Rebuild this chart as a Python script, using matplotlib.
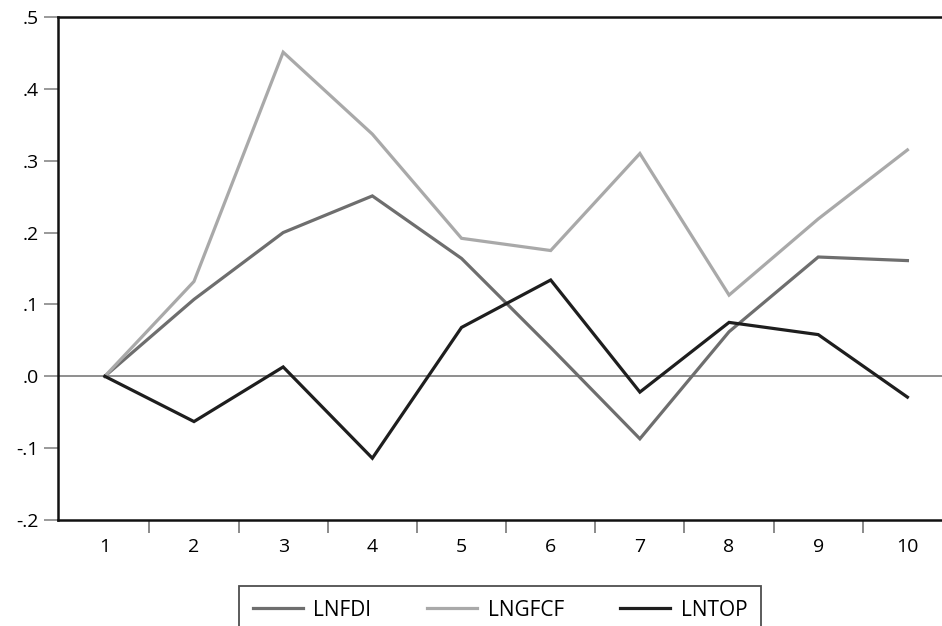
import matplotlib
matplotlib.use("Agg")
import matplotlib.pyplot as plt
from matplotlib.ticker import FuncFormatter
import numpy as np

### data
periods = [1, 2, 3, 4, 5, 6, 7, 8, 9, 10]
lnfdi = [0.0, 0.107, 0.200, 0.251, 0.164, 0.040, -0.087, 0.062, 0.166, 0.161]
lngfcf = [0.0, 0.132, 0.451, 0.337, 0.192, 0.175, 0.310, 0.113, 0.219, 0.315]
lntop = [0.0, -0.063, 0.013, -0.114, 0.068, 0.134, -0.022, 0.075, 0.058, -0.029]

plt.rcParams['font.family'] = ['Open Sans', 'DejaVu Sans']

W, H = 942, 626
fig = plt.figure(figsize=(W / 100, H / 100), dpi=100)
# axes run past the right edge, as in the cropped original
ax = fig.add_axes([58 / W, 1 - 520 / H, (952 - 58) / W, (520 - 17) / H])

ax.axhline(0, color='#707070', lw=1.1, zorder=1)
ax.plot(periods, lnfdi, color='#6e6e6e', lw=2.3, label='LNFDI', solid_joinstyle='miter')
ax.plot(periods, lngfcf, color='#a9a9a9', lw=2.3, label='LNGFCF', solid_joinstyle='miter')
ax.plot(periods, lntop, color='#1e1e1e', lw=2.3, label='LNTOP', solid_joinstyle='miter')

ax.set_xlim(0.475, 10.5)
ax.set_ylim(-0.2, 0.5)

# y labels like ".4", "-.1"
def fmt(v, pos):
    s = "%.1f" % v
    return s.replace("0.", ".")
ax.yaxis.set_major_formatter(FuncFormatter(fmt))
ax.set_yticks(np.arange(-0.2, 0.51, 0.1))

ax.set_xticks(periods)
ax.set_xticks(np.arange(1.5, 10.0, 1.0), minor=True)
ax.tick_params(axis='x', which='major', length=0, pad=13, labelsize=14)
ax.tick_params(axis='x', which='minor', length=9, width=1.2, color='#777777', direction='out')
ax.tick_params(axis='y', which='major', length=10, width=1.2, color='#888888', direction='out',
               labelsize=14, pad=4)

for side in ['left', 'top', 'bottom', 'right']:
    ax.spines[side].set_linewidth(1.8)
    ax.spines[side].set_color('#111111')

leg = ax.legend(loc='upper center', bbox_to_anchor=(500 / W, 1 - 586 / H),
                bbox_transform=fig.transFigure, ncol=3, frameon=True, fancybox=False,
                edgecolor='#222222', fontsize=15, handlelength=2.4, handletextpad=0.5,
                columnspacing=2.7, borderpad=0.65, borderaxespad=0)
leg.get_frame().set_linewidth(1.3)

fig.savefig("out.png", dpi=100)
